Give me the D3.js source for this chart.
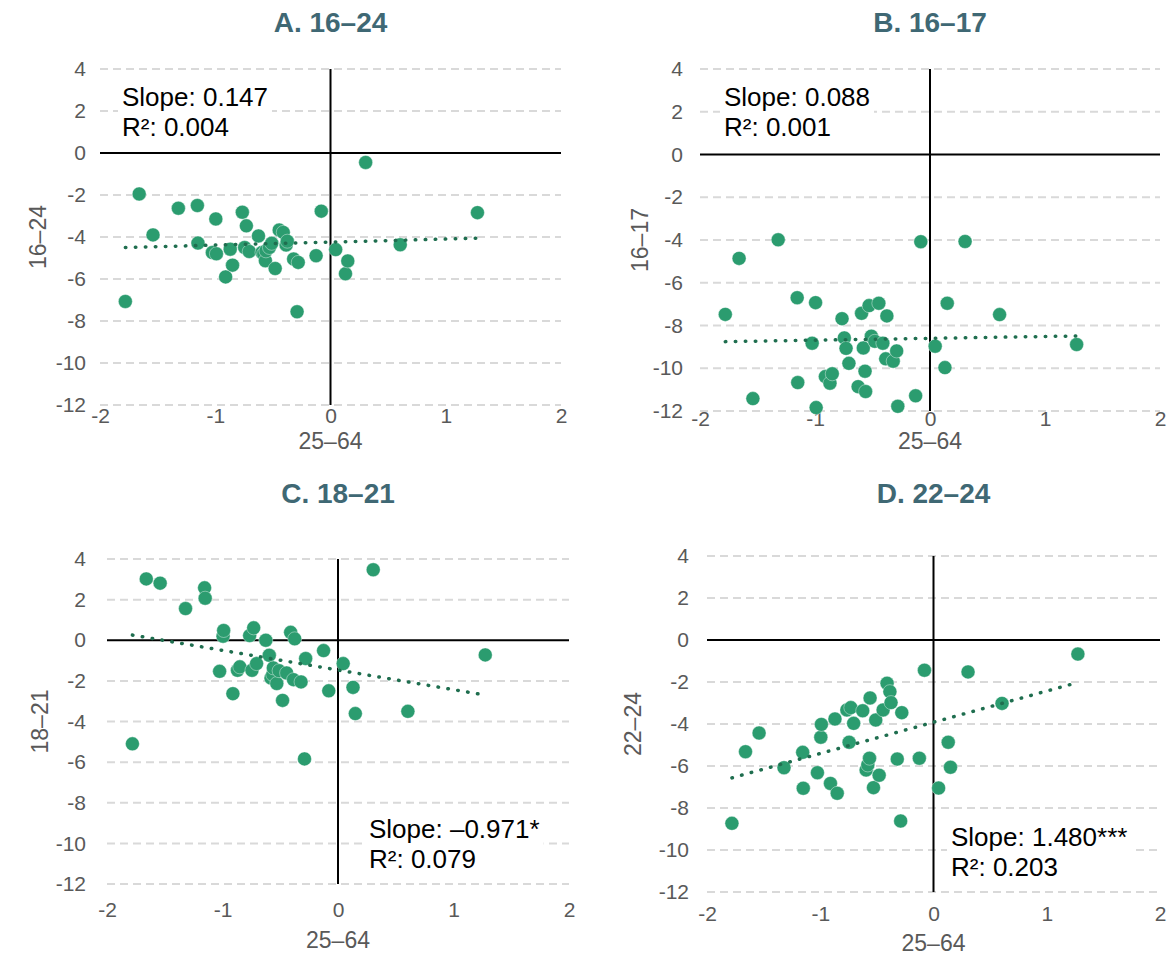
<!DOCTYPE html>
<html>
<head>
<meta charset="utf-8">
<script src="https://cdn.jsdelivr.net/npm/d3@7"></script>
<style>
  body { margin: 0; background: #fff; }
  svg { display: block; font-family: "Liberation Sans", Arial, sans-serif; }
</style>
</head>
<body>
<svg id="chart" width="1171" height="960"></svg>
<script>
// ~~~~~~~~ data ~~~~~~~~
// change in prime-age (25-64) rate, one value per state, shared by all panels
var x2564 = [-1.78, -1.66, -1.54, -1.32, -1.155, -1.15, -1.025, -0.995, -0.99, -0.91,
  -0.87, -0.85, -0.765, -0.745, -0.73, -0.705, -0.625, -0.595, -0.58, -0.565,
  -0.56, -0.53, -0.51, -0.48, -0.445, -0.41, -0.385, -0.375, -0.32, -0.29,
  -0.28, -0.125, -0.08, 0.045, 0.13, 0.15, 0.305, 0.605, 1.275];

var y1624 = [-7.07, -1.95, -3.9, -2.63, -2.5, -4.29, -4.74, -3.14, -4.8, -5.9,
  -4.58, -5.34, -2.82, -4.5, -3.47, -4.69, -3.95, -4.74, -4.81, -5.13,
  -4.66, -4.5, -4.3, -5.5, -3.67, -3.78, -4.38, -4.2, -5.05, -7.56,
  -5.21, -4.89, -2.77, -4.6, -5.75, -5.14, -0.45, -4.37, -2.84];

var y1617 = [-7.48, -4.86, -11.42, -3.99, -6.7, -10.67, -8.83, -6.93, -11.84, -10.39,
  -10.7, -10.26, -7.68, -8.58, -9.07, -9.77, -10.86, -7.43, -9.05, -10.14,
  -11.09, -7.07, -8.5, -8.74, -6.96, -8.83, -9.56, -7.55, -9.67, -9.19,
  -11.78, -11.29, -4.08, -8.97, -9.97, -6.96, -4.07, -7.49, -8.89];

var y1821 = [-5.1, 3.02, 2.81, 1.56, 2.58, 2.07, -1.53, 0.2, 0.48, -2.63,
  -1.48, -1.31, 0.23, -1.48, 0.61, -1.15, 0.0, -0.74, -1.86, -1.69,
  -1.36, -2.13, -1.5, -2.96, -1.61, 0.39, -1.94, 0.07, -2.05, -5.84,
  -0.9, -0.51, -2.49, -1.15, -2.32, -3.61, 3.47, -3.5, -0.72];

var y2224 = [-8.73, -5.32, -4.43, -6.08, -5.35, -7.06, -6.32, -4.63, -4.02, -6.83,
  -3.76, -7.3, -3.33, -4.87, -3.22, -3.97, -3.37, -6.19, -5.95, -5.63,
  -2.76, -7.03, -3.81, -6.44, -3.33, -2.06, -2.46, -2.98, -5.67, -8.62,
  -3.46, -5.63, -1.44, -7.05, -4.87, -6.06, -1.52, -3.02, -0.67];

var panelTitles = ["A. 16\u201324", "B. 16\u201317", "C. 18\u201321", "D. 22\u201324"];
var yTitles = ["16\u201324", "16\u201317", "18\u201321", "22\u201324"];
var xTitle = "25\u201364";
var slopeLabels = ["Slope: 0.147", "Slope: 0.088", "Slope: \u20130.971*", "Slope: 1.480***"];
var r2Labels = ["R\u00b2: 0.004", "R\u00b2: 0.001", "R\u00b2: 0.079", "R\u00b2: 0.203"];
var xTicks = [-2, -1, 0, 1, 2];
var yTicks = [4, 2, 0, -2, -4, -6, -8, -10, -12];

var seriesY = [y1624, y1617, y1821, y2224];

// ~~~~~~~~ layout (pixel boxes for each panel) ~~~~~~~~
var layout = [
  {left: 100, right: 561, top: 69, bottom: 405, titleY: 22, tickY: 418, xTitleY: 441, yTitleX: 38, yLabelX: 86, noteX: 122, noteY: 106},
  {left: 700, right: 1160, top: 69, bottom: 411, titleY: 22, tickY: 421, xTitleY: 441, yTitleX: 640, yLabelX: 683, noteX: 724, noteY: 106},
  {left: 107, right: 569, top: 559, bottom: 884, titleY: 493, tickY: 912, xTitleY: 940, yTitleX: 40, yLabelX: 86, noteX: 369, noteY: 838},
  {left: 707, right: 1160, top: 556, bottom: 892, titleY: 493, tickY: 916, xTitleY: 943, yTitleX: 633, yLabelX: 689, noteX: 951, noteY: 846}
];

var dotColor = "#2b9c6f";
var trendColor = "#1f6e4f";
var tickColor = "#595959";
var titleColor = "#3f6874";

var svg = d3.select("#chart");

function fit(xs, ys) {
  var mx = d3.mean(xs), my = d3.mean(ys);
  var sxy = d3.sum(xs, function(x, i) { return (x - mx) * (ys[i] - my); });
  var sxx = d3.sum(xs, function(x) { return (x - mx) * (x - mx); });
  var b = sxy / sxx;
  return {slope: b, intercept: my - b * mx};
}

layout.forEach(function(L, p) {
  var ys = seriesY[p];
  var x = d3.scaleLinear().domain([-2, 2]).range([L.left, L.right]);
  var y = d3.scaleLinear().domain([-12, 4]).range([L.bottom, L.top]);
  var g = svg.append("g");

  // panel title
  g.append("text")
    .attr("x", x(0)).attr("y", L.titleY)
    .attr("dy", "0.35em")
    .attr("text-anchor", "middle")
    .style("font-weight", "bold")
    .style("font-size", "28px")
    .style("fill", titleColor)
    .text(panelTitles[p]);

  // dashed gridlines
  g.append("g").selectAll("line")
    .data(yTicks.filter(function(d) { return d !== 0; }))
    .enter().append("line")
    .attr("x1", L.left).attr("x2", L.right)
    .attr("y1", function(d) { return y(d); })
    .attr("y2", function(d) { return y(d); })
    .style("stroke", "#d9d9d9")
    .style("stroke-width", 2)
    .style("stroke-dasharray", "8 5");

  // y tick labels
  var yAxis = d3.axisLeft(y).tickValues(yTicks).tickSize(0).tickPadding(0)
    .tickFormat(function(d) { return String(d); });
  var ya = g.append("g").attr("transform", "translate(" + L.yLabelX + ",0)").call(yAxis);
  ya.select(".domain").remove();
  ya.selectAll("text").style("font-size", "21px").style("fill", tickColor)
    .style("font-family", "'Liberation Sans', Arial, sans-serif");

  // x tick labels
  var xAxis = d3.axisBottom(x).tickValues(xTicks).tickSize(0).tickPadding(0)
    .tickFormat(function(d) { return String(d); });
  var xa = g.append("g").attr("transform", "translate(0," + (L.tickY - 10) + ")").call(xAxis);
  xa.select(".domain").remove();
  xa.selectAll("text").style("font-size", "21px").style("fill", tickColor)
    .style("font-family", "'Liberation Sans', Arial, sans-serif");

  // zero axes
  g.append("line")
    .attr("x1", L.left).attr("x2", L.right)
    .attr("y1", y(0)).attr("y2", y(0))
    .style("stroke", "#000").style("stroke-width", 2);
  g.append("line")
    .attr("x1", x(0)).attr("x2", x(0))
    .attr("y1", L.top).attr("y2", L.bottom)
    .style("stroke", "#000").style("stroke-width", 2);

  // axis titles
  g.append("text")
    .attr("x", x(0)).attr("y", L.xTitleY).attr("dy", "0.35em")
    .attr("text-anchor", "middle")
    .style("font-size", "23px").style("fill", tickColor)
    .text(xTitle);
  g.append("text")
    .attr("transform", "translate(" + L.yTitleX + "," + ((L.top + L.bottom) / 2) + ") rotate(-90)")
    .attr("dy", "0.35em")
    .attr("text-anchor", "middle")
    .style("font-size", "23px").style("fill", tickColor)
    .text(yTitles[p]);

  // dots
  g.append("g").selectAll("circle")
    .data(x2564)
    .enter().append("circle")
    .attr("cx", function(d) { return x(d); })
    .attr("cy", function(d, i) { return y(ys[i]); })
    .attr("r", 7)
    .style("fill", dotColor)
    .style("stroke", "#fff")
    .style("stroke-width", 0.4);

  // linear trend, dotted
  var f = fit(x2564, ys);
  var ext = d3.extent(x2564);
  g.append("line")
    .attr("x1", x(ext[0])).attr("y1", y(f.intercept + f.slope * ext[0]))
    .attr("x2", x(ext[1])).attr("y2", y(f.intercept + f.slope * ext[1]))
    .style("stroke", trendColor)
    .style("stroke-width", 3.5)
    .style("stroke-linecap", "round")
    .style("stroke-dasharray", "0.5 9.5");

  // slope / r2 note
  var note = g.append("g");
  var t1 = note.append("text").attr("x", L.noteX).attr("y", L.noteY)
    .style("font-size", "26px").style("fill", "#000").text(slopeLabels[p]);
  var t2 = note.append("text").attr("x", L.noteX).attr("y", L.noteY + 30)
    .style("font-size", "26px").style("fill", "#000").text(r2Labels[p]);
  var b1 = t1.node().getBBox(), b2 = t2.node().getBBox();
  note.insert("rect", "text")
    .attr("x", L.noteX - 4).attr("y", b1.y - 2)
    .attr("width", Math.max(b1.width, b2.width) + 8)
    .attr("height", b2.y + b2.height - b1.y + 4)
    .style("fill", "#fff");
});
</script>
</body>
</html>
